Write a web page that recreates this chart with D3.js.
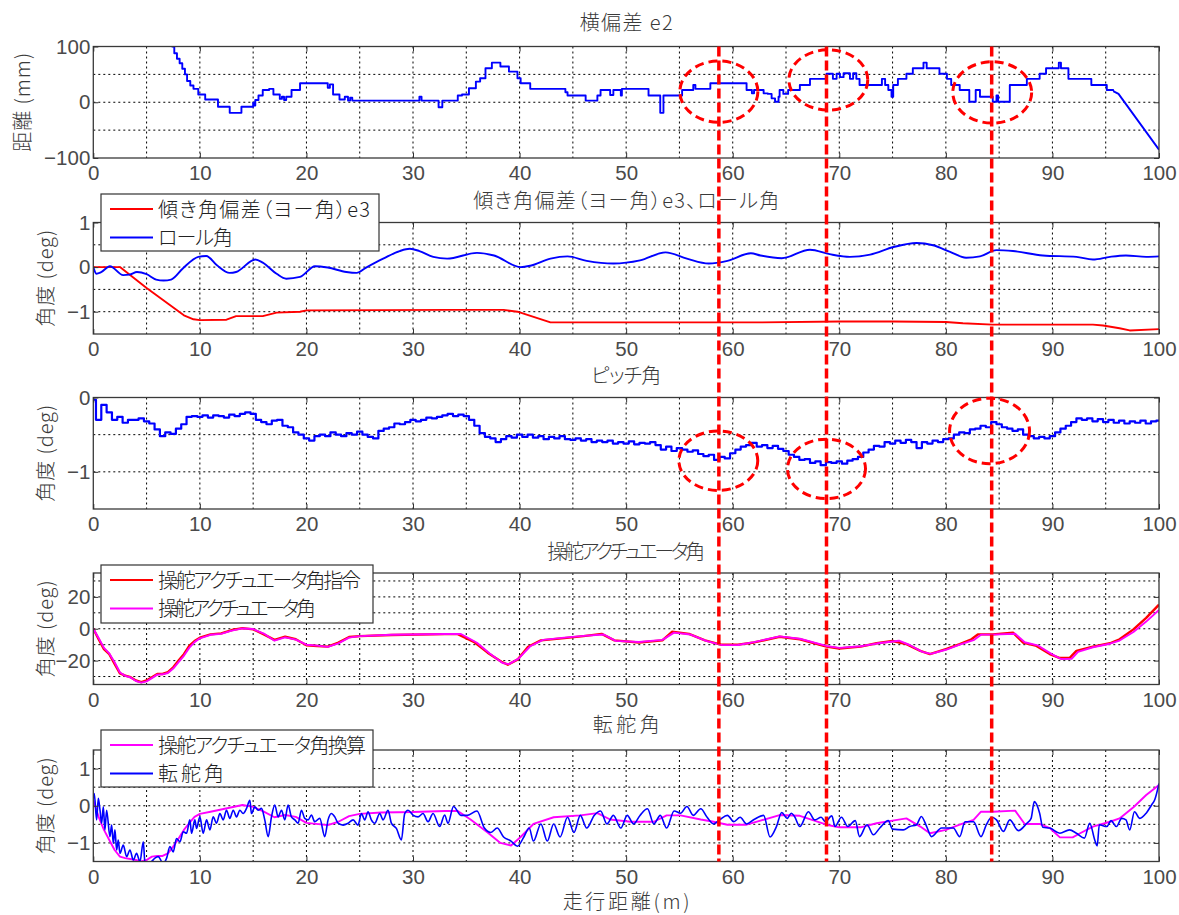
<!DOCTYPE html>
<html lang="ja">
<head>
<meta charset="UTF-8">
<title>走行試験結果</title>
<script src="https://d3js.org/d3.v7.min.js"></script>
<style>
  body { margin: 0; background: #fff; }
  svg text { font-family: "Noto Sans CJK JP", "Noto Sans", sans-serif; }
  .cjk { font-feature-settings: "palt"; font-size: 20px; font-weight: 300; fill: #3a3a3a; }
  .tick text { font-family: "Liberation Sans", Arial, sans-serif; font-size: 20.5px; fill: #4a4a4a; }
  .tick line { stroke: #333; }
</style>
</head>
<body>
<svg width="1179" height="915"></svg>
<script>
// ---- data ----
const xTicks = [0, 10, 20, 30, 40, 50, 60, 70, 80, 90, 100];
const xGrid = [5, 10, 15, 20, 25, 30, 35, 40, 45, 50, 55, 60, 65, 70, 75, 80, 85, 90, 95];

const titles = ["横偏差 e2", "傾き角偏差（ヨー角）e3、ロール角", "ピッチ角", "操舵アクチュエータ角", "転舵角"];
const yDomains = [[-100, 100], [-1.5, 1], [-1.5, 0], [-35, 35], [-1.5, 1.5]];
const yTickLabels = [[-100, 0, 100], [-1, 0, 1], [-1, 0], [-20, 0, 20], [-1, 0, 1]];
const yGridLines = [[-50, 0, 50], [-1, -0.5, 0, 0.5], [-1, -0.5], [-30, -20, -10, 0, 10, 20, 30], [-1, -0.5, 0, 0.5, 1]];
const yLabels = ["距離 (mm)", "角度 (deg)", "角度 (deg)", "角度 (deg)", "角度 (deg)"];

// 横偏差 e2 (mm), stepped
const e2Steps = [[7.35,100],[7.6,88],[7.85,78],[8.1,70],[8.35,60],[8.6,50],[8.8,38],[9.1,30],[9.4,24],[9.85,14],[10.5,5],[11.7,-8],[12.8,-19],[13.9,-8],[15.0,-1],[15.1,-6],[15.2,4],[15.5,12],[15.9,22],[16.5,24],[16.9,14],[17.5,6],[17.7,10],[17.9,4],[18.1,10],[18.6,22],[19.4,34],[22.0,26],[22.2,32],[22.5,14],[23.1,5],[23.6,10],[23.9,3],[24.1,8],[24.3,3],[30.6,10],[30.8,3],[32.4,-9],[32.75,3],[34.2,12],[34.6,14],[35.25,25],[35.9,37],[36.3,43],[36.8,61],[37.4,71],[38.06,71],[38.2,64],[39.0,55],[39.8,43],[40.1,34],[41.0,24],[44.2,24],[44.3,18],[44.5,12],[46.2,3],[47.3,12],[47.6,22],[48.1,22],[48.5,13],[48.8,22],[49.2,22],[49.5,12],[49.6,24],[52.1,12],[53.2,-19],[53.5,12],[55.25,22],[56.2,22],[56.3,31],[56.5,24],[57.9,34],[61.3,22],[61.8,16],[62.0,22],[62.9,16],[63.3,15],[63.65,7],[63.97,1],[64.3,10],[64.4,22],[64.75,15],[65.2,22],[66.3,31],[67.25,42],[68.8,51],[69.4,42],[69.75,51],[70.06,45],[70.4,52],[71.0,42],[71.3,52],[71.6,42],[71.9,31],[74.0,42],[74.3,31],[74.6,22],[74.9,10],[75.06,31],[75.5,42],[76.3,51],[76.9,61],[77.9,71],[78.2,61],[79.4,51],[80.1,42],[80.5,31],[81.3,22],[82.2,1],[82.8,22],[83.2,10],[84.4,1],[84.75,12],[84.9,1],[86.0,31],[87.6,42],[88.8,51],[89.4,61],[90.6,71],[90.8,61],[91.5,42],[93.65,31],[95.1,22],[95.7,20]];
const e2Tail = [[95.7,20],[96.2,15],[100,-85]];

// 傾き角偏差 e3 and ロール角 (deg)
const yawError = [[0,0],[2.5,0],[5,-0.47],[8.5,-1.08],[9.4,-1.17],[10,-1.19],[12.5,-1.18],[13.4,-1.1],[15.9,-1.1],[17.2,-1.02],[19.4,-1.0],[20,-0.97],[33.5,-0.96],[38.5,-0.96],[39.8,-1.0],[42.9,-1.24],[62.6,-1.24],[70,-1.22],[75,-1.22],[80,-1.23],[81.6,-1.26],[84.4,-1.29],[93.8,-1.29],[94.75,-1.31],[96.3,-1.37],[97.25,-1.42],[100,-1.39]];
const rollAngle = [[0,0],[0.3,-0.15],[0.7,-0.12],[1.56,0.02],[2.8,-0.18],[3.4,-0.17],[4.1,-0.11],[5.0,-0.16],[5.9,-0.28],[6.6,-0.3],[7.3,-0.28],[8.4,-0.03],[9.85,0.23],[10.6,0.25],[11.6,0.04],[12.8,-0.13],[13.4,-0.11],[15.2,0.17],[15.9,0.1],[17.2,-0.15],[18.1,-0.26],[19.4,-0.22],[20.8,0.02],[22,-0.01],[23.75,-0.11],[24.7,-0.13],[25.6,-0.01],[27.2,0.19],[28.75,0.36],[29.7,0.41],[30.6,0.36],[31.9,0.23],[33.2,0.19],[36,0.32],[37.6,0.26],[40.1,0.0],[41,0.03],[42.9,0.19],[44.5,0.24],[46.3,0.14],[48.8,0.08],[51.3,0.15],[53.7,0.33],[55.7,0.19],[57.75,0.08],[59.5,0.14],[61.7,0.31],[62.6,0.26],[64.6,0.2],[67.25,0.39],[69.1,0.29],[71,0.23],[72.9,0.28],[75.1,0.45],[77.25,0.54],[78.8,0.49],[80.4,0.34],[81.9,0.21],[83.2,0.24],[84.75,0.38],[86.3,0.36],[89.1,0.26],[92.25,0.23],[93.8,0.17],[95.4,0.23],[96.9,0.26],[98.8,0.23],[100,0.24]];

// ピッチ角 (deg), one value every 0.5 m
const pitchStep = 0.5;
const pitchValues = [
  -0.03,-0.3,-0.1,-0.2,-0.3,-0.26,-0.34,-0.3,-0.3,-0.28,
  -0.32,-0.35,-0.43,-0.52,-0.47,-0.49,-0.42,-0.36,-0.26,-0.25,
  -0.26,-0.24,-0.27,-0.24,-0.25,-0.27,-0.23,-0.25,-0.22,-0.2,
  -0.22,-0.3,-0.33,-0.36,-0.31,-0.3,-0.38,-0.4,-0.47,-0.5,
  -0.55,-0.58,-0.52,-0.5,-0.52,-0.47,-0.5,-0.52,-0.48,-0.5,
  -0.46,-0.5,-0.53,-0.55,-0.45,-0.42,-0.4,-0.35,-0.36,-0.33,
  -0.3,-0.32,-0.3,-0.27,-0.28,-0.26,-0.24,-0.22,-0.25,-0.23,
  -0.25,-0.3,-0.38,-0.48,-0.53,-0.55,-0.6,-0.56,-0.52,-0.54,
  -0.5,-0.53,-0.5,-0.54,-0.52,-0.56,-0.53,-0.55,-0.52,-0.56,
  -0.57,-0.55,-0.58,-0.56,-0.6,-0.58,-0.6,-0.58,-0.62,-0.6,
  -0.62,-0.59,-0.63,-0.61,-0.62,-0.6,-0.64,-0.7,-0.66,-0.72,
  -0.68,-0.7,-0.73,-0.71,-0.76,-0.79,-0.77,-0.84,-0.8,-0.82,
  -0.75,-0.7,-0.66,-0.64,-0.61,-0.66,-0.64,-0.68,-0.65,-0.69,
  -0.72,-0.77,-0.8,-0.84,-0.83,-0.88,-0.86,-0.91,-0.87,-0.88,
  -0.86,-0.89,-0.85,-0.83,-0.8,-0.74,-0.7,-0.65,-0.66,-0.6,
  -0.62,-0.58,-0.61,-0.57,-0.6,-0.68,-0.6,-0.62,-0.58,-0.6,
  -0.56,-0.55,-0.5,-0.47,-0.48,-0.43,-0.42,-0.38,-0.4,-0.33,
  -0.36,-0.4,-0.42,-0.45,-0.43,-0.5,-0.52,-0.55,-0.53,-0.55,
  -0.52,-0.47,-0.42,-0.38,-0.33,-0.28,-0.3,-0.28,-0.32,-0.29,
  -0.33,-0.3,-0.34,-0.31,-0.35,-0.32,-0.34,-0.31,-0.35,-0.32,
  -0.31
];

// 操舵アクチュエータ角 指令 / 実際 (deg)
const actuatorCmd = [[0,0],[0.5,-6.6],[1,-12.8],[1.5,-16],[2,-22],[2.5,-28],[3,-29.4],[3.5,-30.4],[4,-32.5],[4.5,-33.5],[5,-32.5],[5.5,-30.4],[6,-28.4],[6.5,-28.4],[7,-27.3],[7.5,-24.2],[8,-20],[8.5,-16],[9,-10.8],[9.5,-7.7],[10,-5.6],[11,-3.5],[12,-2.9],[13,-0.8],[14,0.4],[15,-0.4],[16,-3.5],[17,-7],[18,-5],[19,-6.6],[20,-10.4],[21,-10.8],[22,-11.2],[23,-8.7],[24,-5.2],[25,-4.6],[28,-3.9],[33,-3.4],[34.2,-3.4],[35.8,-8.6],[37,-15],[38.3,-20.7],[38.9,-22.6],[39.8,-19.4],[40.8,-11.3],[42,-7.3],[44.2,-5.9],[46,-4.6],[47.7,-3.2],[48.9,-7.3],[51.2,-8.6],[53.4,-7.3],[54.3,-1.9],[55.9,-3.2],[57.4,-7.3],[58.9,-10],[60.5,-10],[62,-8.6],[64.4,-5],[66.3,-6.6],[68.8,-11.2],[70,-12.4],[72,-11.2],[73.5,-9.1],[75,-7.7],[76.3,-9.7],[77.6,-13.9],[78.5,-15.9],[80,-12.8],[81.3,-9.7],[82.4,-6.6],[83,-3.5],[84.4,-3.5],[86.3,-2.5],[87.25,-8.7],[88.5,-10.8],[89.75,-15.9],[90.7,-18.4],[91.6,-18.4],[92.25,-13.9],[93.8,-11.2],[95.4,-9.1],[96.3,-6.6],[97.6,-0.4],[98.8,6.8],[100,15.1]];
const actuatorAngle = [[0,0],[0.5,-5.8],[1,-12],[1.5,-15.5],[2,-21],[2.5,-27.5],[3,-29.6],[3.5,-30.6],[4,-32.8],[4.5,-33.8],[5,-33],[5.5,-31],[6,-28.8],[6.5,-28.6],[7,-27.8],[7.5,-25],[8,-21],[8.5,-17],[9,-12],[9.5,-8.4],[10,-6],[11,-3.8],[12,-3.2],[13,-1.2],[14,0.2],[15,-0.2],[16,-3],[17,-7.5],[18,-5.4],[19,-6.8],[20,-10],[21,-10.6],[22,-11.4],[23,-9.2],[24,-5.6],[25,-4.6],[28,-3.8],[33,-3.3],[34.5,-3.3],[36,-8.8],[37.2,-15.6],[38.4,-21.5],[39,-22.2],[39.9,-18.8],[41,-11],[42.2,-7],[44.2,-5.6],[46,-4.5],[47.9,-3.6],[49,-7.6],[51.2,-8.3],[53.4,-7],[54.5,-2.4],[56,-3.6],[57.5,-7.6],[59,-10.3],[60.5,-10.2],[62,-8.4],[64.4,-4.8],[66.3,-6.3],[68.8,-10.8],[70,-12],[72,-11],[73.5,-9.3],[75.6,-7.5],[76.6,-10.2],[77.8,-14.5],[78.6,-15.8],[80,-13.2],[81.3,-10],[82.6,-7.2],[83.3,-3.7],[84.4,-3.7],[86.5,-3.1],[87.4,-8.5],[88.6,-10.4],[89.9,-15.8],[90.8,-19],[91.8,-18.9],[92.4,-14.5],[93.8,-11.6],[95.4,-9.4],[96.3,-7.4],[97.6,-2],[98.8,4.5],[100,11.8]];

// 転舵角: 操舵アクチュエータ角換算 / 転舵角 (deg)
const steerConverted = [[0,0.15],[0.5,-0.3],[1,-0.65],[1.5,-0.92],[2,-1.19],[2.5,-1.37],[3,-1.41],[4,-1.46],[4.5,-1.5],[5,-1.46],[5.5,-1.37],[6,-1.35],[6.5,-1.35],[7,-1.28],[7.5,-1.1],[8,-0.88],[8.5,-0.65],[9,-0.47],[9.5,-0.3],[10,-0.22],[11,-0.16],[12,-0.1],[13,-0.04],[14,0.02],[15,-0.03],[16,-0.16],[17,-0.31],[18,-0.25],[19,-0.3],[20,-0.46],[22,-0.52],[23,-0.43],[24,-0.28],[25,-0.22],[27,-0.18],[30,-0.17],[33,-0.14],[34.2,-0.14],[35.4,-0.37],[37,-0.72],[38.2,-1.0],[39.2,-1.07],[40.1,-0.84],[41.3,-0.49],[43.2,-0.31],[45.7,-0.26],[47.3,-0.2],[48.5,-0.37],[50.4,-0.43],[52.6,-0.43],[53.8,-0.26],[55.1,-0.26],[57,-0.37],[58.2,-0.43],[59.5,-0.51],[61.3,-0.51],[62.6,-0.4],[64.4,-0.25],[66.3,-0.27],[68.8,-0.51],[70,-0.58],[72,-0.58],[73.5,-0.47],[75,-0.4],[76.3,-0.34],[77.6,-0.56],[78.5,-0.74],[80,-0.65],[81.3,-0.51],[82.6,-0.38],[83.3,-0.16],[84.4,-0.16],[86.5,-0.13],[87.4,-0.49],[88.8,-0.49],[89.75,-0.6],[90.7,-0.85],[91.9,-0.85],[92.6,-0.74],[93.8,-0.56],[95.4,-0.43],[96.3,-0.34],[97.6,-0.04],[98.8,0.29],[100,0.56]];
const steerAngle = [[0,0.2],[0.09,0.33],[0.31,-0.38],[0.47,0.2],[0.63,-0.12],[0.78,-0.47],[0.94,-0.03],[1.09,-0.65],[1.25,-0.12],[1.56,-0.83],[1.72,-0.52],[1.88,-1.01],[2.03,-0.65],[2.19,-1.19],[2.34,-0.92],[2.5,-1.28],[2.81,-1.06],[3.13,-1.37],[3.44,-1.19],[3.75,-1.46],[4.06,-1.28],[4.38,-1.5],[4.69,-0.97],[4.84,-1.5],[5.16,-1.55],[5.47,-1.5],[5.78,-1.41],[6.09,-1.37],[6.56,-1.55],[6.88,-1.41],[7.19,-1.1],[7.5,-1.24],[7.81,-0.88],[8.13,-0.97],[8.44,-0.7],[8.75,-0.74],[9.06,-0.38],[9.22,-0.74],[9.53,-0.38],[9.69,-0.61],[10,-0.3],[10.31,-0.74],[10.63,-0.38],[10.94,-0.65],[11.25,-0.3],[11.56,-0.47],[11.88,-0.21],[12.19,-0.38],[12.5,-0.12],[12.81,-0.34],[13.13,-0.12],[13.44,-0.3],[13.75,-0.12],[14.06,-0.21],[14.38,-0.07],[14.69,0.15],[14.84,-0.21],[15.16,-0.03],[15.47,-0.12],[15.78,-0.07],[16.09,-0.38],[16.41,-0.83],[16.72,-0.3],[17.03,0.02],[17.34,-0.3],[17.66,-0.12],[17.97,-0.38],[18.28,0.02],[18.59,-0.3],[18.91,-0.38],[19.22,-0.47],[19.53,-0.12],[19.84,-0.34],[20.16,-0.38],[20.47,-0.25],[20.78,-0.43],[21.25,-0.34],[21.72,-0.83],[22.03,-0.38],[22.34,-0.21],[22.66,-0.3],[22.97,-0.47],[23.44,-0.52],[23.91,-0.47],[24.38,-0.38],[24.84,-0.52],[25.16,-0.21],[25.47,-0.38],[25.78,-0.16],[26.09,-0.38],[26.41,-0.47],[26.88,-0.21],[27.19,-0.38],[27.66,-0.12],[27.97,-0.47],[28.44,-0.61],[28.91,-0.92],[29.22,-0.21],[29.53,-0.12],[30,-0.25],[30.47,-0.3],[30.94,-0.21],[31.41,-0.43],[31.88,-0.21],[32.5,-0.56],[32.97,-0.25],[33.28,-0.47],[33.8,-0.02],[34.5,-0.26],[35.1,-0.26],[36,-0.14],[36.7,-0.6],[37.3,-0.72],[37.9,-0.6],[38.5,-0.84],[39.2,-0.95],[39.8,-1.09],[40.4,-0.84],[40.9,-0.6],[41.3,-0.95],[42,-0.49],[42.6,-0.95],[43.2,-0.49],[43.8,-0.84],[44.5,-0.31],[45.1,-0.72],[45.7,-0.26],[46.3,-0.6],[47,-0.26],[47.6,-0.14],[48.2,-0.49],[48.8,-0.26],[49.5,-0.6],[50.1,-0.26],[50.7,-0.49],[51.3,-0.26],[52,-0.08],[52.6,-0.49],[53.2,-0.26],[53.8,-0.6],[54.5,-0.14],[55.1,-0.2],[55.7,-0.02],[56.3,-0.26],[57,-0.08],[57.6,-0.31],[58.2,-0.49],[58.8,-0.37],[59.5,-0.26],[60.1,-0.43],[60.7,-0.31],[61.3,-0.49],[62,-0.37],[62.9,-0.26],[63.5,-0.84],[64.1,-0.56],[64.6,-0.18],[65.1,-0.34],[65.5,-0.2],[65.8,-0.29],[66.3,-0.56],[67.1,-0.16],[67.7,-0.38],[68.3,-0.31],[68.7,-0.43],[69.3,-0.27],[69.6,-0.56],[70.2,-0.31],[70.8,-0.56],[71.5,-0.4],[71.9,-0.83],[72.6,-0.51],[73.2,-0.78],[73.8,-0.6],[74.6,-0.4],[75,-0.63],[76,-0.65],[76.6,-0.56],[77.25,-0.51],[77.7,-0.29],[78.2,-0.56],[78.65,-0.83],[79.6,-0.6],[80.7,-0.6],[81.3,-0.83],[81.8,-0.43],[82.6,-0.43],[83.3,-0.83],[83.8,-0.51],[84.3,-0.31],[84.75,-0.38],[85.4,-0.69],[86,-0.38],[86.8,-0.67],[87.6,-0.47],[88,-0.34],[88.3,0.11],[88.8,-0.2],[89.1,-0.58],[89.75,-0.6],[90.7,-0.74],[91.6,-0.65],[92.25,-0.74],[93,-0.87],[93.5,-0.47],[93.97,-0.92],[94.2,-1.08],[94.4,-0.51],[95.1,-0.56],[95.5,-0.4],[96,-0.56],[96.5,-0.34],[96.9,-0.38],[97.25,-0.65],[97.7,-0.16],[98.2,-0.34],[98.8,-0.2],[99.3,0.02],[99.6,0.16],[100,0.6]];

// red annotations: marker distances, ellipses [cx, cy, rx, ry] in data units
const markerX = [58.7, 68.8, 84.3];
const ellipsesE2 = [[58.7, 19, 3.66, 55], [68.97, 40, 3.7, 54], [84.35, 17.6, 3.7, 55]];
const ellipsesPitch = [[58.65, -0.85, 3.7, 0.4], [68.8, -0.96, 3.66, 0.4], [84.1, -0.45, 3.75, 0.44]];

// ---- layout ----
const svg = d3.select("svg");
svg.append("rect").attr("width", 1179).attr("height", 915).attr("fill", "#fff");

const x = d3.scaleLinear().domain([0, 100]).range([93.3, 1159]);
const tops = [46.5, 222.5, 397.5, 573, 750];
const ph = 111.5;
const titleBase = [29.5, 207.5, 383, 558.5, 731.5];
const titleWidths = [93, 306, 70, 158, 67];
const tickFmt = d3.format("~g");

const pitch = pitchValues.map((v, i) => [i * pitchStep, v]);

const seriesByPanel = [
  [{ data: e2Steps, color: "#0000ff", curve: d3.curveStepAfter }, { data: e2Tail, color: "#0000ff" }],
  [{ data: yawError, color: "#ff0000" }, { data: rollAngle, color: "#0000ff", curve: d3.curveMonotoneX }],
  [{ data: pitch, color: "#0000ff", width: 2.2, curve: d3.curveStep }],
  [{ data: actuatorCmd, color: "#ff0000", width: 2.4 }, { data: actuatorAngle, color: "#ff00ff" }],
  [{ data: steerConverted, color: "#ff00ff" }, { data: steerAngle, color: "#0000ff", width: 1.6, curve: d3.curveMonotoneX }]
];

const legends = [
  null,
  { x: 101, y: 194, w: 278, h: 57, items: [["傾き角偏差（ヨー角）e3", "#ff0000", 212], ["ロール角", "#0000ff", 75]] },
  null,
  { x: 101, y: 565, w: 272, h: 58, items: [["操舵アクチュエータ角指令", "#ff0000", 203], ["操舵アクチュエータ角", "#ff00ff", 158]] },
  { x: 101, y: 730, w: 272, h: 57, items: [["操舵アクチュエータ角換算", "#ff00ff", 208], ["転舵角", "#0000ff", 66]] }
];

const yScales = [];

tops.forEach((top, i) => {
  const y = d3.scaleLinear().domain(yDomains[i]).range([top + ph, top]);
  yScales.push(y);
  const g = svg.append("g");

  // dotted grid
  g.selectAll(".vg").data(xGrid).join("line")
    .attr("x1", d => x(d)).attr("x2", d => x(d))
    .attr("y1", top).attr("y2", top + ph)
    .attr("stroke", "#000").attr("stroke-width", 1).attr("stroke-dasharray", "2,3");
  g.selectAll(".hg").data(yGridLines[i]).join("line")
    .attr("x1", x(0)).attr("x2", x(100))
    .attr("y1", d => y(d)).attr("y2", d => y(d))
    .attr("stroke", "#000").attr("stroke-width", 1).attr("stroke-dasharray", "2,3");

  // data
  svg.append("clipPath").attr("id", "clip" + i).append("rect")
    .attr("x", x(0)).attr("y", top).attr("width", x(100) - x(0)).attr("height", ph);
  const lg = g.append("g").attr("clip-path", `url(#clip${i})`);
  seriesByPanel[i].forEach(s => {
    const line = d3.line().x(d => x(d[0])).y(d => y(d[1])).curve(s.curve || d3.curveLinear);
    lg.append("path").datum(s.data).attr("d", line)
      .attr("fill", "none").attr("stroke", s.color)
      .attr("stroke-width", s.width || 1.9).attr("stroke-linejoin", "round");
  });

  // frame
  g.append("rect").attr("x", x(0)).attr("y", top).attr("width", x(100) - x(0)).attr("height", ph)
    .attr("fill", "none").attr("stroke", "#3a3a3a").attr("stroke-width", 1.3);

  // axes (ticks pointing inward)
  g.append("g").attr("transform", `translate(0,${top + ph})`)
    .call(d3.axisBottom(x).tickValues(xTicks).tickSize(-5).tickPadding(7.5))
    .call(a => a.select(".domain").remove());
  g.append("g").attr("transform", `translate(0,${top})`)
    .call(d3.axisTop(x).tickValues(xTicks).tickSize(-5).tickFormat(""))
    .call(a => a.select(".domain").remove());
  g.append("g").attr("transform", `translate(${x(0)},0)`)
    .call(d3.axisLeft(y).tickValues(yTickLabels[i]).tickSize(-5).tickPadding(3).tickFormat(tickFmt))
    .call(a => a.select(".domain").remove());
  g.append("g").attr("transform", `translate(${x(100)},0)`)
    .call(d3.axisRight(y).tickValues(yTickLabels[i]).tickSize(-5).tickFormat(""))
    .call(a => a.select(".domain").remove());

  // title
  g.append("text").attr("class", "cjk")
    .attr("x", (x(0) + x(100)) / 2).attr("y", titleBase[i])
    .attr("text-anchor", "middle")
    .attr("textLength", titleWidths[i]).attr("lengthAdjust", "spacing")
    .text(titles[i]);

  // y label
  const lx = i === 0 ? 30 : 53;
  g.append("text").attr("class", "cjk")
    .attr("transform", `translate(${lx},${top + ph / 2}) rotate(-90)`)
    .attr("text-anchor", "middle")
    .attr("textLength", i === 0 ? 99 : 97).attr("lengthAdjust", "spacing")
    .text(yLabels[i]);

  // legend
  const L = legends[i];
  if (L) {
    const lgd = svg.append("g");
    lgd.append("rect").attr("x", L.x).attr("y", L.y).attr("width", L.w).attr("height", L.h)
      .attr("fill", "#fff").attr("stroke", "#333").attr("stroke-width", 1.2);
    L.items.forEach((it, k) => {
      const cy = L.y + 15 + k * 28.5;
      lgd.append("line").attr("x1", 110).attr("x2", 153).attr("y1", cy).attr("y2", cy)
        .attr("stroke", it[1]).attr("stroke-width", 2);
      lgd.append("text").attr("class", "cjk").attr("x", 158).attr("y", cy + 7.5)
        .attr("textLength", it[2]).attr("lengthAdjust", "spacing")
        .style("fill", "#222").text(it[0]);
    });
  }
});

// x axis label
svg.append("text").attr("class", "cjk")
  .attr("x", (x(0) + x(100)) / 2).attr("y", 909)
  .attr("text-anchor", "middle")
  .attr("textLength", 127).attr("lengthAdjust", "spacing")
  .text("走行距離(m)");

// red dashed markers and ellipses
const ann = svg.append("g").attr("fill", "none").attr("stroke", "#ff0000");
ann.selectAll(".mk").data(markerX).join("line")
  .attr("x1", d => x(d)).attr("x2", d => x(d))
  .attr("y1", tops[0]).attr("y2", tops[4] + ph)
  .attr("stroke-width", 3.5).attr("stroke-dasharray", "10,4");
[[0, ellipsesE2], [2, ellipsesPitch]].forEach(([pi, list]) => {
  const y = yScales[pi];
  ann.selectAll(".el" + pi).data(list).join("ellipse")
    .attr("cx", d => x(d[0])).attr("cy", d => y(d[1]))
    .attr("rx", d => x(d[0] + d[2]) - x(d[0]))
    .attr("ry", d => y(d[1] - d[3]) - y(d[1]))
    .attr("stroke-width", 3).attr("stroke-dasharray", "9,5");
});
</script>
</body>
</html>
